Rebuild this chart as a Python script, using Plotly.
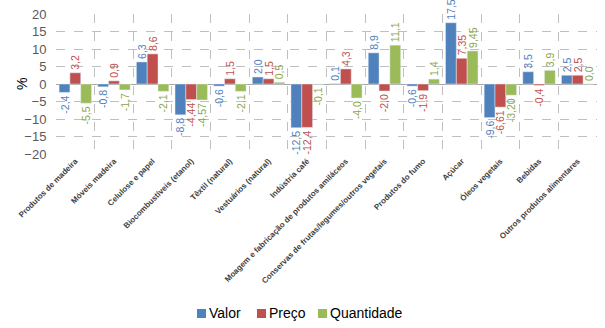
import plotly.graph_objects as go

categories = [
    "Produtos de madeira", "Móveis madeira", "Celulose e papel",
    "Biocombustíveis (etanol)", "Têxtil (natural)", "Vestuários (natural)",
    "Indústria café", "Moagem e fabricação de produtos amiláceos",
    "Conservas de frutas/legumes/outros vegetais", "Produtos do fumo",
    "Açúcar", "Óleos vegetais", "Bebidas", "Outros produtos alimentares",
]
valor = [-2.4, -0.8, 6.3, -8.8, -0.6, 2.0, -12.5, 0.1, 8.9, -0.6, 17.5, -9.6, 3.5, 2.5]
preco = [3.2, 0.9, 8.6, -4.44, 1.5, 1.5, -12.4, 4.3, -2.0, -1.9, 7.35, -6.61, -0.4, 2.5]
quantidade = [-5.5, -1.7, -2.1, -4.57, -2.1, 0.5, -0.1, -4.0, 11.1, 1.4, 9.45, -3.20, 3.9, 0.0]
valor_lbl = ["-2,4", "-0,8", "6,3", "-8,8", "-0,6", "2,0", "-12,5", "0,1", "8,9", "-0,6", "17,5", "-9,6", "3,5", "2,5"]
preco_lbl = ["3,2", "0,9", "8,6", "-4,44", "1,5", "1,5", "-12,4", "4,3", "-2,0", "-1,9", "7,35", "-6,61", "-0,4", "2,5"]
quant_lbl = ["-5,5", "-1,7", "-2,1", "-4,57", "-2,1", "0,5", "-0,1", "-4,0", "11,1", "1,4", "9,45", "-3,20", "3,9", "0,0"]
y_ticks = [-20, -15, -10, -5, 0, 5, 10, 15, 20]

series = [
    ("Valor", valor, valor_lbl, "#4F81BD", "#4F81BD"),
    ("Preço", preco, preco_lbl, "#C0504D", "#C0504D"),
    ("Quantidade", quantidade, quant_lbl, "#9BBB59", "#8AA64A"),
]

W, H = 605, 328
L, R, T, B = 56, 8, 14, 174
PW, PH = W - L - R, H - T - B


def px(x):
    return (x - L) / PW


def py(y):
    return (H - B - y) / PH


fig = go.Figure()
for name, vals, lbls, col, tcol in series:
    fig.add_trace(go.Bar(
        x=categories, y=vals, name=name, marker_color=col,
        text=lbls, textposition="outside", textangle=-90,
        constraintext="none", cliponaxis=False, showlegend=False,
        textfont=dict(family="Liberation Sans", size=10.5, color=tcol),
    ))

# custom legend (small squares close to their text, as in the reference)
shapes = []
annotations = []
legend_items = [("Valor", "#4F81BD", 197), ("Preço", "#C0504D", 257), ("Quantidade", "#9BBB59", 318)]
for name, col, x0 in legend_items:
    shapes.append(dict(type="rect", xref="paper", yref="paper",
                       x0=px(x0), x1=px(x0 + 9), y0=py(318), y1=py(309),
                       fillcolor=col, line=dict(width=0)))
    annotations.append(dict(text=name, xref="paper", yref="paper", x=px(x0 + 10), y=py(313),
                            xanchor="left", yanchor="middle", showarrow=False,
                            font=dict(size=14, color="#000000", family="Liberation Sans")))

annotations.append(dict(text="%", xref="paper", yref="paper", x=px(12), y=0.5,
                        showarrow=False, textangle=-90,
                        font=dict(size=14, color="#000000", family="Liberation Sans")))

fig.update_layout(
    width=W, height=H,
    margin=dict(l=L, r=R, t=T, b=B, autoexpand=False),
    paper_bgcolor="white", plot_bgcolor="white",
    barmode="group", bargap=0.16, bargroupgap=0,
    font=dict(family="Liberation Sans", color="#404040"),
    showlegend=False,
    xaxis=dict(
        tickson="boundaries", showgrid=True, gridcolor="#BFBFBF", griddash="dash",
        tickangle=-45, ticks="", tickfont=dict(size=8, color="#404040", family="Liberation Sans", weight="bold"),
        showline=False, zeroline=False,
    ),
    yaxis=dict(
        range=[-20, 20], tickvals=y_ticks, showgrid=True, gridcolor="#BFBFBF", griddash="dash",
        zeroline=True, zerolinecolor="#A6A6A6", zerolinewidth=1,
        tickfont=dict(size=13, color="#595959"), ticks="outside", ticklen=6, tickcolor="rgba(0,0,0,0)",
        showline=False,
    ),
    shapes=shapes,
    annotations=annotations,
)
fig.write_html("out.html")
